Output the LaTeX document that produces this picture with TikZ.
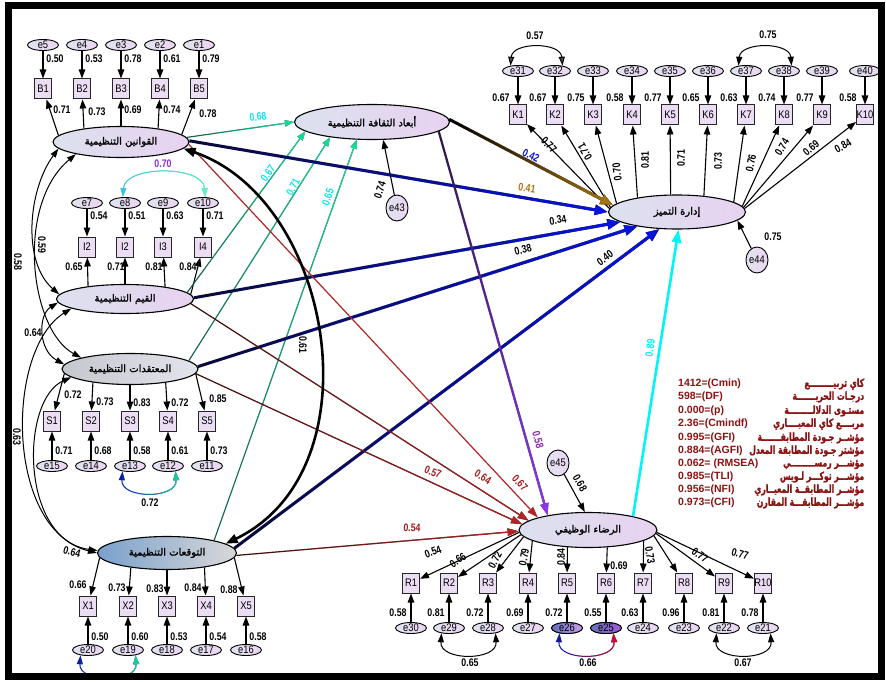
\documentclass[tikz,border=0pt]{standalone}
\usepackage{fontspec}
\setmainfont{Liberation Sans}
\newfontfamily\nar[FakeStretch=0.8]{Liberation Sans}
\newfontfamily\narr[FakeStretch=0.85]{Liberation Sans}
\newfontfamily\arab[Script=Arabic,FakeBold=1.6]{DejaVu Sans}
\newfontfamily\arabn[Script=Arabic,FakeStretch=0.7,FakeBold=1.2]{DejaVu Sans}
\TeXXeTstate=1
\usetikzlibrary{shapes.geometric,arrows.meta,fadings}
\definecolor{latL}{HTML}{DCE1EE}
\definecolor{latR}{HTML}{E7D2F0}
\definecolor{grayL}{HTML}{C6C6CE}
\definecolor{grayR}{HTML}{E4E4EC}
\definecolor{bluL}{HTML}{7AA0CC}
\definecolor{bluR}{HTML}{D8D8D8}
\definecolor{boxf}{HTML}{EBDDF3}
\definecolor{errL}{HTML}{E2E2EE}
\definecolor{errR}{HTML}{EAD6F2}
\definecolor{cy}{HTML}{12E2F2}
\definecolor{cyl}{HTML}{00F4F8}
\definecolor{dred}{HTML}{A31A1A}
\definecolor{fitred}{HTML}{8C1212}
\definecolor{grnA}{HTML}{0C5E40}
\definecolor{grnB}{HTML}{18DC9C}
\definecolor{navy}{HTML}{0A0A36}
\definecolor{blu}{HTML}{0814DC}
\definecolor{gold}{HTML}{A87612}
\definecolor{purA}{HTML}{2A1848}
\definecolor{purp}{HTML}{8C38EA}
\definecolor{purl}{HTML}{8E22B0}
\definecolor{redA}{HTML}{3A0C0C}
\definecolor{redB}{HTML}{B02626}
\definecolor{covA}{HTML}{0A1AA8}
\definecolor{covG}{HTML}{14D494}
\definecolor{covR}{HTML}{D01020}
\definecolor{tealA}{HTML}{38C4D8}
\definecolor{tealB}{HTML}{6CEDC4}
\definecolor{vio}{HTML}{8A2BE2}
\definecolor{e26L}{HTML}{5F6FC0}
\definecolor{e26R}{HTML}{D09CEC}
\definecolor{e25L}{HTML}{6474B8}
\definecolor{e25R}{HTML}{9C5CD4}
\tikzfading[name=toR, left color=transparent!100, right color=transparent!0]
\tikzfading[name=toD, top color=transparent!100, bottom color=transparent!0]
\newcommand\ltxt{\nar\bfseries\fontsize{11}{12}\selectfont}
\newcommand\etxt{\narr\fontsize{11}{12}\selectfont}
\newcommand\artx[1]{{\arab\fontsize{10}{11}\selectfont\beginR #1\endR}}
\newcommand\fitar[1]{{\arabn\fontsize{11}{12}\selectfont\beginR #1\endR}}
\newcommand\gdraw[4]{\draw[#1,#2]#4;\draw[#1,#3]#4;}
\begin{document}
\begin{tikzpicture}[x=1pt,y=-1pt,
 lat/.style={ellipse,draw=black,line width=1.1pt,inner sep=0pt,left color=latL,right color=latR,minimum width=137pt,minimum height=31pt},
 box/.style={rectangle,draw=black!85,line width=1pt,fill=boxf,minimum width=17pt,minimum height=20pt,inner sep=0pt,font=\etxt},
 err/.style={ellipse,draw=black,line width=0.9pt,inner sep=0pt,minimum width=31pt,minimum height=11pt,left color=errL,right color=errR,font=\etxt},
 errc/.style={err,minimum width=20pt,minimum height=26pt},
 ld/.style={font=\ltxt,inner sep=0pt},
 pa/.style={line width=1.1pt,-{Triangle[length=9pt,width=6.5pt]}},
 pg/.style={line width=1.2pt,-{Triangle[length=11pt,width=7.5pt]}},
 big/.style={line width=3pt,-{Triangle[length=13pt,width=10pt]}},
 midp/.style={line width=2.2pt,-{Triangle[length=12pt,width=8pt]}},
 cov/.style={line width=1pt,{Triangle[length=9pt,width=6pt]}-{Triangle[length=9pt,width=6pt]}},
 covbig/.style={line width=2.6pt,{Triangle[length=12pt,width=9pt]}-{Triangle[length=12pt,width=9pt]}},
 fitl/.style={anchor=west,inner sep=0pt,text=fitred,font=\bfseries\fontsize{10.5}{11}\selectfont}
]
\fill[white] (0,0) rectangle (886,682);
\useasboundingbox (0,0) rectangle (886,682);

% latent variables
\node[lat,minimum width=136pt] (L1) at (121,142) {\artx{القوانين التنظيمية}};
\node[lat,minimum height=29pt] (L2) at (125,299) {\artx{القيم التنظيمية}};
\node[lat,left color=grayL,right color=grayR,minimum width=136pt] (L3) at (130,369) {\artx{المعتقدات التنظيمية}};
\node[lat,left color=bluL,right color=bluR,minimum width=139pt,minimum height=33pt] (L4) at (167,553) {\artx{التوقعات التنظيمية}};
\node[lat,minimum width=155pt,minimum height=35pt] (M) at (372,122) {\artx{أبعاد الثقافة التنظيمية}};
\node[lat,minimum height=34pt] (Y1) at (677,212) {\artx{إدارة التميز}};
\node[lat,minimum width=138pt,minimum height=35pt] (Y2) at (588,530) {\artx{الرضاء الوظيفي}};

% B group
\foreach \i/\x/\e/\an/\lx/\ly/\lv/\ev in {1/43/5/174/62/110/0.71/0.50,2/82/4/160/97/112/0.73/0.53,3/121/3/90/133/110/0.69/0.78,4/160/2/20/172/110/0.74/0.61,5/199/1/7/208/114/0.78/0.79}{
 \node[box] (B\i) at (\x,89) {B\i};
 \node[err] (e\e) at (\x,45) {e\e};
 \draw[pa] (e\e) -- (B\i);
 \draw[pa] (L1.\an) -- (B\i);
 \node[ld] (lb\i) at (\lx,\ly) {\lv};
 \node[ld] (le\e) at (\x+12,59) {\ev};
}
% I group
\foreach \i/\tx/\x/\e/\an/\lx/\lv/\ev in {1/I2/87/7/161/74/0.65/0.54,2/I2/125/8/90/116/0.71/0.51,3/I3/163/9/17/154/0.81/0.63,4/I4/203/10/4/188/0.84/0.71}{
 \node[box] (I\i) at (\x,247) {\tx};
 \node[err] (e\e) at (\x,203) {e\e};
 \draw[pa] (e\e) -- (I\i);
 \draw[pa] (L2.\an) -- (I\i);
 \node[ld] (li\i) at (\lx,267) {\lv};
 \node[ld] (le\e) at (\x+12,216) {\ev};
}
% S group
\foreach \i/\x/\e/\an/\lx/\ly/\lv/\ev in {1/52/15/184/73/395/0.72/0.71,2/91/14/200/105/402/0.73/0.68,3/130/13/270/142/403/0.83/0.58,4/168/12/339/180/403/0.72/0.61,5/207/11/356/218/399/0.85/0.73}{
 \node[box] (S\i) at (\x,421) {S\i};
 \node[err] (e\e) at (\x,466) {e\e};
 \draw[pa] (e\e) -- (S\i);
 \draw[pa] (L3.\an) -- (S\i);
 \node[ld] (ls\i) at (\lx,\ly) {\lv};
 \node[ld] (le\e) at (\x+12,451) {\ev};
}
% X group
\foreach \i/\x/\e/\an/\lx/\ly/\lv/\ev in {1/88/20/184/78/585/0.66/0.50,2/128/19/202/117/588/0.73/0.60,3/167/18/270/155/589/0.83/0.53,4/206/17/339/193/588/0.84/0.54,5/246/16/356/229/590/0.88/0.58}{
 \node[box] (X\i) at (\x,606) {X\i};
 \node[err] (e\e) at (\x,650) {e\e};
 \draw[pa] (e\e) -- (X\i);
 \draw[pa] (L4.\an) -- (X\i);
 \node[ld] (lx\i) at (\lx,\ly) {\lv};
 \node[ld] (le\e) at (\x+12,637) {\ev};
}
% K group
\foreach \i/\x/\e/\an/\ev in {1/518/31/177/0.67,2/555/32/176/0.67,3/593/33/172/0.75,4/632/34/160/0.58,5/670/35/110/0.77,6/708/36/31/0.65,7/746/37/10/0.63,8/784/38/5/0.74,9/822/39/4/0.77,10/865/40/3/0.58}{
 \node[box] (K\i) at (\x,115) {K\i};
 \node[err] (e\e) at (\x,71) {e\e};
 \draw[pa] (e\e) -- (K\i);
 \draw[pa] (Y1.\an) -- (K\i);
 \node[ld] (le\e) at (\x-17,98) {\ev};
}
\foreach \n/\x/\y/\r/\v in {1/549/145/-45/0.77,2/585/152/120/0.71,3/617/172/97/0.70,4/645/160/90/0.81,5/681/158/90/0.71,6/718/161/90/0.73,7/751/163/78/0.76,8/782/147/58/0.74,9/811/148/40/0.69,10/843/146/30/0.84}{
 \node[ld,rotate=\r] (lk\n) at (\x,\y) {\v};
}
% R group
\foreach \i/\x/\e/\an/\ev in {1/411/30/182/0.58,2/449/29/184/0.81,3/488/28/186/0.72,4/528/27/191/0.69,5/567/26/220/0.72,6/606/25/318/0.55,7/643/24/349/0.63,8/684/23/355/0.96,9/724/22/357/0.81,10/763/21/358/0.78}{
 \node[box] (R\i) at (\x,583) {R\i};
 \node[err] (e\e) at (\x,628) {e\e};
 \draw[pa] (e\e) -- (R\i);
 \draw[pa] (Y2.\an) -- (R\i);
 \node[ld] (le\e) at (\x-13,613) {\ev};
}
\node[err,left color=e26L,right color=e26R] (e26) at (567,628) {e26};
\node[err,left color=e25L,right color=e25R] (e25) at (606,628) {e25};
\foreach \n/\x/\y/\r/\v in {1/433/552/20/0.54,2/458/560/35/0.66,3/495/560/62/0.72,4/524/557/80/0.79,5/561/557/90/0.84,6/619/566/0/0.69,7/650/555/-80/0.73,9/700/555/-35/0.77,10/740/554/-15/0.77}{
 \node[ld,rotate=\r] (lr\n) at (\x,\y) {\v};
}

% residual circles
\node[errc] (e43) at (397,208) {e43};
\node[errc] (e44) at (757,260) {e44};
\node[errc] (e45) at (558,463) {e45};
\draw[pa] (e43) -- (M.302);
\draw[pa] (e44) -- (Y1.352);
\draw[pa] (e45) -- (Y2.100);

% structural paths
\gdraw{pa}{grnA}{grnB,path fading=toR}{(L1.4) -- (M.180)}
\gdraw{pa}{grnA}{grnB,path fading=toR}{(L2.6) -- (M.188)}
\gdraw{pa}{grnA}{grnB,path fading=toR}{(L3.8) -- (M.200)}
\gdraw{pa}{grnA}{grnB,path fading=toR}{(L4.15) -- (M.229)}
\gdraw{big}{black}{gold,path fading=toR}{(M.2) -- (Y1.174)}
\gdraw{big}{navy}{blu,path fading=toR}{(L1.1) -- (Y1.180)}
\gdraw{big}{navy}{blu,path fading=toR}{(L2.1) -- (Y1.190)}
\gdraw{big}{navy}{blu,path fading=toR}{(L3.2) -- (Y1.200)}
\gdraw{big}{navy}{blu,path fading=toR}{(L4.4) -- (Y1.224)}
\gdraw{midp}{purA}{purp,path fading=toD}{(M.352) -- (Y2.160)}
\draw[pg,redB] (L1.358) -- (Y2.166);
\gdraw{pg}{redA}{redB,path fading=toR}{(L2.356) -- (Y2.171)}
\gdraw{pg}{redA}{redB,path fading=toR}{(L3.356) -- (Y2.175)}
\gdraw{pg}{redA}{redB,path fading=toR}{(L4.358) -- (Y2.181)}
\draw[line width=2.6pt,cyl,-{Triangle[length=13pt,width=9pt]}] (Y2.17) -- (Y1.275);

% covariances among exogenous
\draw[covbig] (L1.354) .. controls (334,200) and (378,470) .. (L4.9);
\draw[cov] (L1.186) .. controls (28,190) and (22,262) .. (L2.176);
\draw[cov] (L1.195) .. controls (15,205) and (30,330) .. (L3.167);
\draw[cov] (L2.183) .. controls (38,315) and (38,350) .. (L3.176);
\draw[cov] (L2.190) .. controls (5,350) and (5,530) .. (L4.180);
\draw[cov] (L3.188) .. controls (20,400) and (20,540) .. (L4.178);

% error covariances
\gdraw{cov}{tealA}{tealB,path fading=toR}{(e8.110) .. controls +(2,-32) and +(-2,-32) .. (e10.70)}
\gdraw{cov}{covA}{covG,path fading=toR}{(e13.215) .. controls +(-2,28) and +(2,28) .. (e12.325)}
\gdraw{cov}{covA}{covG,path fading=toR}{(e20.215) .. controls +(-2,28) and +(2,28) .. (e19.325)}
\draw[cov,{Triangle[length=9pt,width=6pt,fill=black!70]}-{Triangle[length=9pt,width=6pt,fill=black!70]}] (e31.145) .. controls +(2,-24) and +(-2,-24) .. (e32.35);
\draw[cov] (e37.145) .. controls +(2,-24) and +(-2,-24) .. (e38.35);
\draw[cov] (e29.215) .. controls +(-2,28) and +(2,28) .. (e28.325);
\gdraw{cov}{covA}{covR,path fading=toR}{(e26.215) .. controls +(-2,28) and +(2,28) .. (e25.325)}
\draw[cov] (e22.215) .. controls +(-2,28) and +(2,28) .. (e21.325);

% path labels
\node[ld,text=cy,rotate=8] (p1) at (258,117) {0.68};
\node[ld,text=cy,rotate=55] (p2) at (268,173) {0.67};
\node[ld,text=cy,rotate=62] (p3) at (293,187) {0.71};
\node[ld,text=cy,rotate=72] (p4) at (328,197) {0.65};
\node[ld,rotate=72] (p5) at (380,190) {0.74};
\node[ld,text=blu,rotate=-25] (p6) at (531,156) {0.42};
\node[ld,text=gold,rotate=-9] (p7) at (527,188) {0.41};
\node[ld,rotate=9] (p8) at (558,220) {0.34};
\node[ld,rotate=15] (p9) at (523,250) {0.38};
\node[ld,rotate=36] (p10) at (605,258) {0.40};
\node[ld] (p11) at (773,237) {0.75};
\node[ld,text=cyl,rotate=82] (p12) at (650,348) {0.89};
\node[ld,text=purl,rotate=-75] (p13) at (538,440) {0.58};
\node[ld,text=dred,rotate=-22] (p14) at (433,472) {0.57};
\node[ld,text=dred,rotate=-32] (p15) at (483,477) {0.64};
\node[ld,text=dred,rotate=-45] (p16) at (520,483) {0.67};
\node[ld,text=dred,rotate=-3] (p17) at (412,528) {0.54};
\node[ld,rotate=-60] (p18) at (580,483) {0.68};
\node[ld,rotate=-90] (c1) at (303,345) {0.61};
\node[ld,text=vio] (c2) at (163,164) {0.70};
\node[ld] (c3) at (150,503) {0.72};
\node[ld] (c4) at (535,36) {0.57};
\node[ld] (c5) at (768,35) {0.75};
\node[ld] (c6) at (470,663) {0.65};
\node[ld] (c7) at (588,663) {0.66};
\node[ld] (c8) at (743,663) {0.67};
\node[ld,rotate=-90] (c9) at (42,245) {0.59};
\node[ld,rotate=-90] (c10) at (18,262) {0.58};
\node[ld] (c11) at (33,333) {0.64};
\node[ld,rotate=-90] (c12) at (17,437) {0.63};
\node[ld,rotate=-15] (c13) at (72,552) {0.64};

% fit indices
\node[fitl] (f1) at (678,384) {\makebox[186pt]{1412=(Cmin)\hfill\fitar{كاي تربيـــــــــع}}};
\node[fitl] (f2) at (678,397) {\makebox[186pt]{598=(DF)\hfill\fitar{درجـات الحريـــــــة}}};
\node[fitl] (f3) at (678,411) {\makebox[186pt]{0.000=(p)\hfill\fitar{مستـوى الدلالـــــــــة}}};
\node[fitl] (f4) at (678,424) {\makebox[186pt]{2.36=(Cmindf)\hfill\fitar{مربــــع كاي المعيــــاري}}};
\node[fitl] (f5) at (678,438) {\makebox[186pt]{0.995=(GFI)\hfill\fitar{مؤشــر جـودة المطابقـــــــة}}};
\node[fitl] (f6) at (678,451) {\makebox[186pt]{0.884=(AGFI)\hfill\fitar{مؤشتر جـودة المطابقة المعدل}}};
\node[fitl] (f7) at (678,464) {\makebox[186pt]{0.062= (RMSEA)\hfill\fitar{مؤشـــر رمســـــــــي}}};
\node[fitl] (f8) at (678,477) {\makebox[186pt]{0.985=(TLI)\hfill\fitar{مؤشـــر توكـــر لـويس}}};
\node[fitl] (f9) at (678,490) {\makebox[186pt]{0.956=(NFI)\hfill\fitar{مؤشــر المطابقــة المعيــاري}}};
\node[fitl] (f10) at (678,503) {\makebox[186pt]{0.973=(CFI)\hfill\fitar{مؤشـــر المطابقـــة المقارن}}};

% frame
\draw[line width=7pt] (8.5,6) rectangle (881.5,676);
\end{tikzpicture}
\end{document}
